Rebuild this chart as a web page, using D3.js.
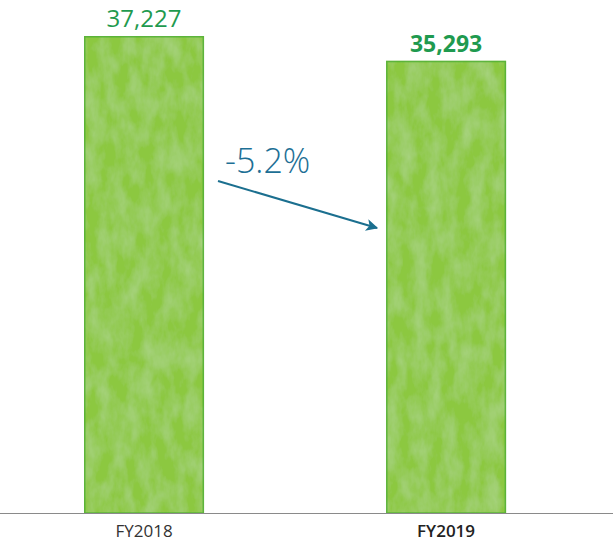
<!DOCTYPE html>
<html>
<head>
<meta charset="utf-8">
<script src="https://cdn.jsdelivr.net/npm/d3@7/dist/d3.min.js"></script>
<style>
  html, body { margin: 0; padding: 0; background: #ffffff; }
  svg { display: block; }
</style>
</head>
<body>
<div id="chart"></div>
<script>
// Fiscal-year totals
const categories = ["FY2018", "FY2019"];
const values = [37227, 35293];
const valueLabels = ["37,227", "35,293"];
const changeLabel = "-5.2%";

const width = 613, height = 544;
const baseline = 513, topY = 36;

const svg = d3.select("#chart").append("svg")
  .attr("width", width).attr("height", height);

// Soft watercolour mottling for the bars
const defs = svg.append("defs");
const f = defs.append("filter").attr("id", "wash")
  .attr("x", "0").attr("y", "0").attr("width", "1").attr("height", "1");
f.append("feTurbulence").attr("type", "fractalNoise")
  .attr("baseFrequency", "0.07 0.035").attr("numOctaves", 4).attr("seed", 11)
  .attr("result", "noise");
f.append("feColorMatrix").attr("in", "noise").attr("type", "matrix")
  .attr("values", "0 0 0 0 1  0 0 0 0 1  0 0 0 0 1  0 0 0 -1.4 0.95")
  .attr("result", "spots");
f.append("feComposite").attr("in", "spots").attr("in2", "SourceGraphic")
  .attr("operator", "in").attr("result", "clipped");
f.append("feComponentTransfer").attr("in", "clipped").attr("result", "soft")
  .append("feFuncA").attr("type", "linear").attr("slope", 0.2);
const merge = f.append("feMerge");
merge.append("feMergeNode").attr("in", "SourceGraphic");
merge.append("feMergeNode").attr("in", "soft");

const x = d3.scaleBand()
  .domain(categories)
  .range([23.6, 566.5])
  .paddingInner(0.6026)
  .paddingOuter(0.2);

const y = d3.scaleLinear()
  .domain([0, d3.max(values)])
  .range([baseline, topY]);

const data = categories.map((c, i) => ({ cat: c, value: values[i], label: valueLabels[i], i }));

// Bars
svg.selectAll("rect.bar").data(data).join("rect")
  .attr("class", "bar")
  .attr("x", d => x(d.cat))
  .attr("y", d => y(d.value))
  .attr("width", x.bandwidth())
  .attr("height", d => y(0) - y(d.value))
  .attr("fill", "#8cc83f")
  .attr("filter", "url(#wash)");

svg.selectAll("rect.edge").data(data).join("rect")
  .attr("class", "edge")
  .attr("x", d => x(d.cat) + 0.75)
  .attr("y", d => y(d.value) + 0.75)
  .attr("width", x.bandwidth() - 1.5)
  .attr("height", d => y(0) - y(d.value) - 0.75)
  .attr("fill", "none")
  .attr("stroke", "#4fae35")
  .attr("stroke-width", 1.5)
  .attr("stroke-opacity", 0.8);

// Baseline
svg.append("line")
  .attr("x1", 0).attr("x2", width)
  .attr("y1", baseline + 0.5).attr("y2", baseline + 0.5)
  .attr("stroke", "#8a8a8a").attr("stroke-width", 1.2);

// Category labels
svg.selectAll("text.cat").data(data).join("text")
  .attr("class", "cat")
  .attr("x", d => x(d.cat) + x.bandwidth() / 2)
  .attr("y", 537)
  .attr("text-anchor", "middle")
  .attr("font-family", "'Open Sans', sans-serif")
  .attr("font-size", 17)
  .attr("font-weight", d => d.i === 1 ? 600 : 400)
  .attr("fill", d => d.i === 1 ? "#222" : "#333")
  .text(d => d.cat);

// Value labels
svg.selectAll("text.val").data(data).join("text")
  .attr("class", "val")
  .attr("x", d => x(d.cat) + x.bandwidth() / 2)
  .attr("y", d => y(d.value) - 9)
  .attr("text-anchor", "middle")
  .attr("font-family", "'Open Sans', sans-serif")
  .attr("font-size", d => d.i === 1 ? 23 : 24)
  .attr("font-weight", d => d.i === 1 ? 700 : 400)
  .attr("fill", "#1f9a4f")
  .text(d => d.label);

// Change arrow
const arrowColor = "#1b6f8f";
defs.append("marker").attr("id", "arrowhead")
  .attr("viewBox", "0 0 10 10").attr("refX", 9).attr("refY", 5)
  .attr("markerWidth", 13).attr("markerHeight", 12)
  .attr("markerUnits", "userSpaceOnUse")
  .attr("orient", "auto")
  .append("path").attr("d", "M0,0 L10,5 L0,10 L2.5,5 Z")
  .attr("fill", arrowColor);

svg.append("path")
  .attr("d", "M218,181 L377,228")
  .attr("stroke", arrowColor).attr("stroke-width", 2)
  .attr("fill", "none")
  .attr("marker-end", "url(#arrowhead)");

svg.append("text")
  .attr("x", 225).attr("y", 173)
  .attr("font-family", "'Open Sans', sans-serif")
  .attr("font-size", 34)
  .attr("font-weight", 300)
  .attr("fill", "#1d6f95")
  .text(changeLabel);
</script>
</body>
</html>
